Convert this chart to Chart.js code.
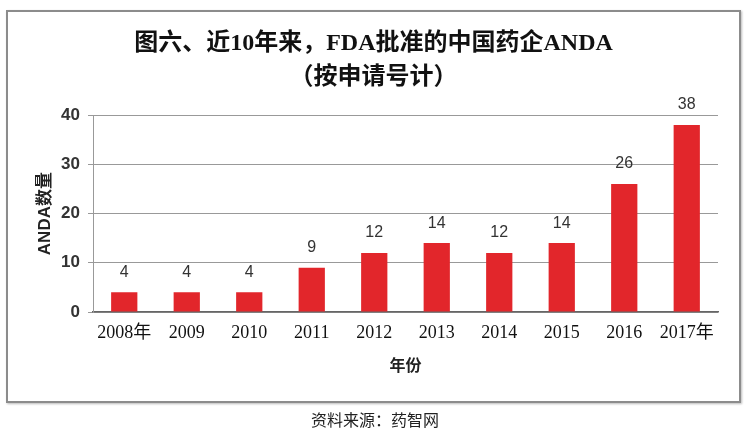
<!DOCTYPE html>
<html lang="zh">
<head>
  <meta charset="UTF-8">
  <title>FDA批准的中国药企ANDA</title>
  <script src="https://cdn.jsdelivr.net/npm/chart.js"></script>
  <style>
    body { margin: 0; background: #fff; }
    .wrap { position: relative; width: 750px; height: 434px; }
    .frame { position: absolute; left: 6px; top: 10px; width: 731px; height: 389px; border: 2px solid #8c8c8c; box-shadow: 1px 1px 2px #bbb; }
    .source { position: absolute; left: 0; top: 407px; width: 750px; text-align: center; font: 16px "Noto Sans CJK SC", sans-serif; color: #222; }
    canvas { position: absolute; left: 0; top: 0; }
  </style>
</head>
<body>
  <div class="wrap">
    <div class="frame"></div>
    <canvas id="andaChart" width="750" height="434"></canvas>
    <div class="source">资料来源：药智网</div>
  </div>

  <script>
    const years = ['2008年', '2009', '2010', '2011', '2012', '2013', '2014', '2015', '2016', '2017年'];
    const andaCounts = [4, 4, 4, 9, 12, 14, 12, 14, 26, 38];
    const titleLines = ['图六、近10年来，FDA批准的中国药企ANDA', '（按申请号计）'];

    // value labels above each bar
    const barValues = {
      id: 'barValues',
      afterDatasetsDraw(chart) {
        const ctx = chart.ctx;
        ctx.save();
        ctx.font = '16px "Liberation Sans", sans-serif';
        ctx.fillStyle = '#333';
        ctx.textAlign = 'center';
        ctx.textBaseline = 'middle';
        chart.getDatasetMeta(0).data.forEach((bar, i) => {
          ctx.fillText(andaCounts[i], bar.x, bar.y - 20);
        });
        ctx.restore();
      }
    };

    new Chart(document.getElementById('andaChart').getContext('2d'), {
      type: 'bar',
      data: {
        labels: years,
        datasets: [{
          label: 'ANDA数量',
          data: andaCounts,
          backgroundColor: '#e2262b',
          barPercentage: 0.42,
          categoryPercentage: 1.0
        }]
      },
      options: {
        responsive: false,
        animation: false,
        layout: { padding: { left: 29, right: 32, top: 0, bottom: 54 } },
        plugins: {
          legend: { display: false },
          tooltip: { enabled: false },
          title: {
            display: true,
            text: titleLines,
            color: '#111',
            font: { family: '"Liberation Serif", "Noto Sans CJK SC", serif', size: 24, weight: 'bold', lineHeight: 1.4 },
            padding: { top: 27, bottom: 21 }
          }
        },
        scales: {
          x: {
            grid: { display: false, drawTicks: false },
            border: { display: true, color: '#666', width: 1.5 },
            ticks: {
              color: '#111',
              padding: 10,
              font: { family: '"Liberation Serif", "Noto Sans CJK SC", serif', size: 18 },
              maxRotation: 0,
              autoSkip: false
            },
            title: {
              display: true,
              text: '年份',
              color: '#222',
              font: { family: '"Noto Sans CJK SC", sans-serif', size: 16, weight: 'bold' },
              padding: { top: 4, bottom: 5 }
            },
            afterFit(scale) { scale.height = 68; }
          },
          y: {
            min: 0,
            max: 40,
            ticks: {
              stepSize: 10,
              color: '#333',
              padding: 8,
              font: { family: '"Liberation Sans", sans-serif', size: 17, weight: 'bold' }
            },
            grid: { color: '#999', lineWidth: 1, tickLength: 5 },
            border: { display: true, color: '#999' },
            title: {
              display: true,
              text: 'ANDA数量',
              color: '#222',
              font: { family: '"Liberation Sans", "Noto Sans CJK SC", sans-serif', size: 17, weight: 'bold' },
              padding: { top: 6, bottom: 0 }
            },
            afterFit(scale) { scale.width = 64; }
          }
        }
      },
      plugins: [barValues]
    });
  </script>
</body>
</html>
